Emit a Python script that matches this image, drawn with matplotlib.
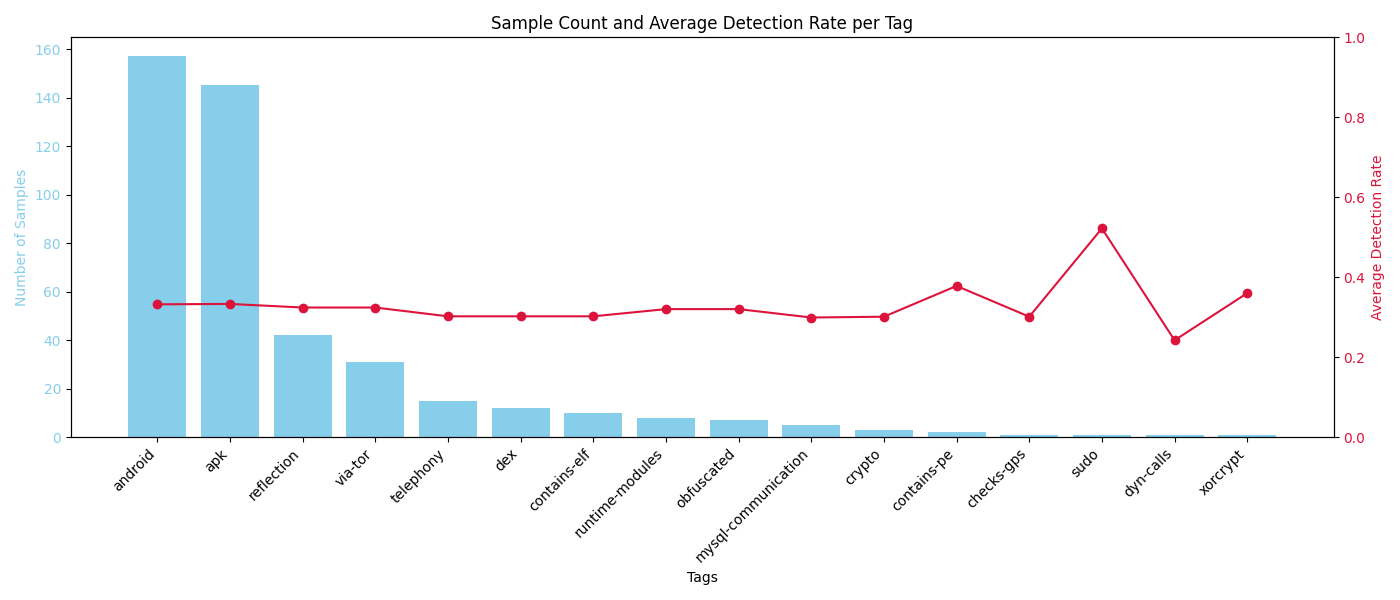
import numpy as np
import matplotlib.pyplot as plt

tags = ['android', 'apk', 'reflection', 'via-tor', 'telephony', 'dex', 'contains-elf',
        'runtime-modules', 'obfuscated', 'mysql-communication', 'crypto', 'contains-pe',
        'checks-gps', 'sudo', 'dyn-calls', 'xorcrypt']
counts = [157, 145, 42, 31, 15, 12, 10, 8, 7, 5, 3, 2, 1, 1, 1, 1]
rates = [0.332, 0.333, 0.324, 0.324, 0.302, 0.302, 0.302, 0.320, 0.320, 0.299,
         0.301, 0.378, 0.301, 0.522, 0.242, 0.360]

fig, ax1 = plt.subplots(figsize=(14, 6), dpi=100)
x = np.arange(len(tags))
ax1.bar(x, counts, color='skyblue')
ax1.set_xlabel('Tags')
ax1.set_ylabel('Number of Samples', color='skyblue')
ax1.tick_params(axis='y', labelcolor='skyblue')
ax1.set_xticks(x)
ax1.set_xticklabels(tags, rotation=45, ha='right')

ax2 = ax1.twinx()
ax2.plot(x, rates, color='crimson', marker='o')
ax2.set_ylabel('Average Detection Rate', color='crimson')
ax2.tick_params(axis='y', labelcolor='crimson')
ax2.set_ylim(0, 1)

plt.title('Sample Count and Average Detection Rate per Tag')
fig.tight_layout()
plt.savefig('out.png')
